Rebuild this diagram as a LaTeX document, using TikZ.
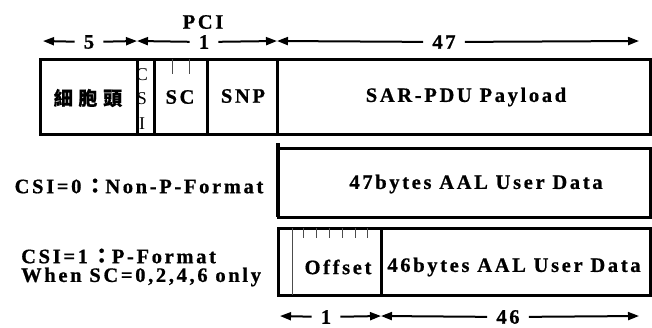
\documentclass[tikz,border=0pt]{standalone}
\usepackage{fontspec}
\setmainfont{Liberation Serif}[LetterSpace=13,BoldFeatures={FakeBold=0.8}]
\newfontfamily\plainserif{Liberation Serif}
\newfontfamily\cjk{Noto Sans CJK TC}[LetterSpace=30,BoldFeatures={FakeBold=0.8}]
\usetikzlibrary{arrows.meta}

\tikzset{
  fld/.style={draw,line width=3pt},
  thin/.style={draw,line width=0.8pt,black!70},
  lbl/.style={font=\bfseries\fontsize{20.5}{20.5}\selectfont,inner sep=4pt},
  num/.style={lbl,inner xsep=9pt},
  csi/.style={font=\plainserif\fontsize{18}{18}\selectfont,inner sep=0pt},
  dim/.style={line width=2pt,-{Triangle[length=11pt,width=8pt]}},
}

\begin{document}
\begin{tikzpicture}[x=1pt,y=-1pt]
    \useasboundingbox (0,0) rectangle (652,327);

    % SAR-PDU
    \draw[fld] (40,59) rectangle (650,134);
    \draw[fld] (137,59) -- (137,134);
    \draw[fld] (154,59) -- (154,134);
    \draw[fld] (207,59) -- (207,134);
    \draw[fld] (277,59) -- (277,134);
    \foreach \x in {172,189}
        \draw[thin] (\x,59) -- (\x,74);

    \node[lbl] (head) at (88,98) {\cjk\bfseries\fontsize{19}{19}\selectfont 細胞頭};
    \node[csi] (c) at (142,75) {C};
    \node[csi] (s) at (142,99) {S};
    \node[csi] (i) at (142,124) {I};
    \node[lbl] (sc) at (180,97) {SC};
    \node[lbl] (snp) at (243,96) {SNP};
    \node[lbl] (pay) at (466,97) {SAR-PDU Payload};

    % sizes on top
    \coordinate (t0) at (43,41);
    \coordinate (t1) at (137,41);
    \coordinate (t2) at (277,41);
    \coordinate (t3) at (639,41);
    \node[lbl] (pci) at (203,22) {PCI};
    \node[num] (d5) at (89,42) {5};
    \node[num] (d1) at (204,42) {1};
    \node[num] (d47) at (444,42) {47};
    \draw[dim] (d5) -- (t0);
    \draw[dim] (d5) -- (t1);
    \draw[dim] (d1) -- (t1);
    \draw[dim] (d1) -- (t2);
    \draw[dim] (d47) -- (t2);
    \draw[dim] (d47) -- (t3);

    % CSI=0
    \draw[fld] (278,148) rectangle (650,217);
    \draw[line width=4pt] (278,143) -- (278,217);
    \node[lbl] (user47) at (476,184) {47bytes AAL User Data};
    \node[lbl] (np) at (139,186) {CSI=0\,{\cjk ：}Non-P-Format};

    % CSI=1
    \draw[fld] (278,228) rectangle (650,295);
    \draw[fld] (381,228) -- (381,295);
    \draw[thin] (292,228) -- (292,295);
    \foreach \x in {303,316,329,342,355,367}
        \draw[thin] (\x,228) -- (\x,238);
    \node[lbl] (off) at (338,267) {Offset};
    \node[lbl] (user46) at (514,267) {46bytes AAL User Data};
    \node[lbl,anchor=west] (pf) at (17,256) {CSI=1\,{\cjk ：}P-Format};
    \node[lbl,anchor=west] (when) at (17,277) {When SC=0,2,4,6 only};

    % sizes below
    \coordinate (b0) at (280,316);
    \coordinate (b1) at (381,316);
    \coordinate (b2) at (639,316);
    \node[num] (e1) at (326,317) {1};
    \node[num] (e46) at (508,317) {46};
    \draw[dim] (e1) -- (b0);
    \draw[dim] (e1) -- (b1);
    \draw[dim] (e46) -- (b1);
    \draw[dim] (e46) -- (b2);
\end{tikzpicture}
\end{document}
